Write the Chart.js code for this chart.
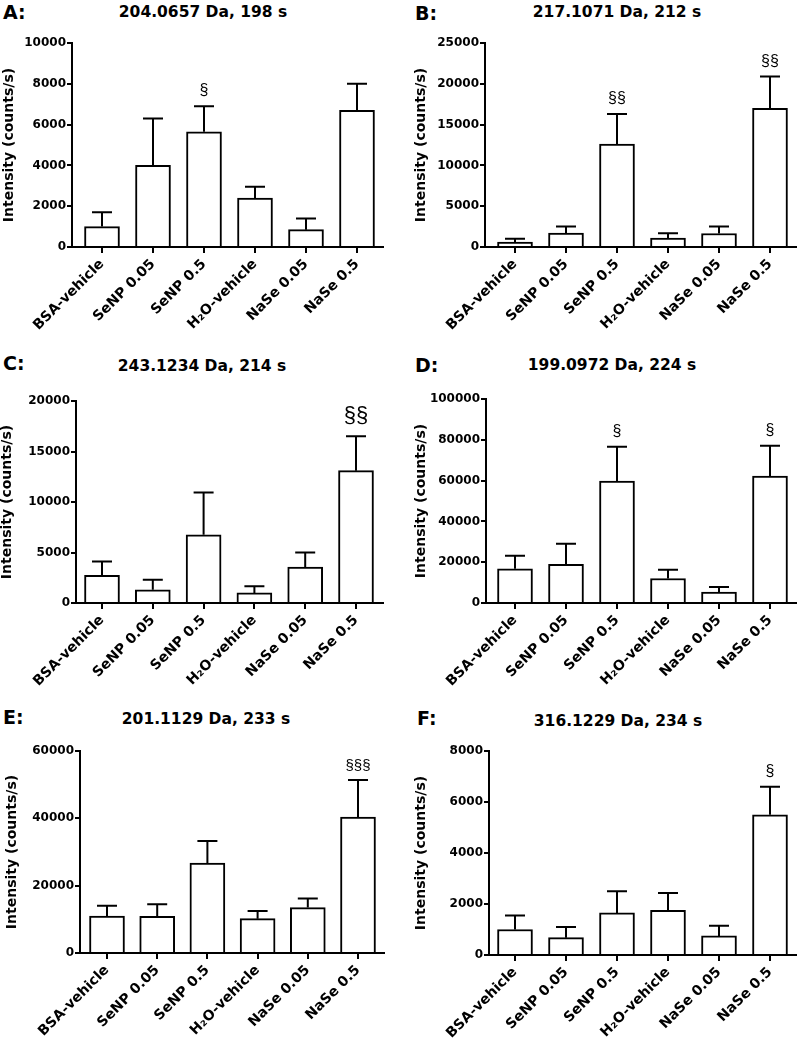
<!DOCTYPE html>
<html>
<head>
<meta charset="utf-8">
<script src="https://cdn.jsdelivr.net/npm/chart.js@4.4.1/dist/chart.umd.min.js"></script>
<style>
  html, body { margin: 0; padding: 0; background: #fff; overflow: hidden; }
  body { width: 797px; height: 1038px; position: relative; }
  canvas { position: absolute; }
  .letter { position: absolute; font: bold 19px "DejaVu Sans"; line-height: 1; transform: translateY(-50%); color: #000; }
  .title { position: absolute; font: bold 15.5px "DejaVu Sans"; line-height: 1; white-space: nowrap; transform: translate(-50%, -50%); color: #000; }
</style>
</head>
<body>
<script>
// --- DATA ---
const categories = ["BSA-vehicle", "SeNP 0.05", "SeNP 0.5", "H\u2082O-vehicle", "NaSe 0.05", "NaSe 0.5"];

const meansA = [1000, 4000, 5650, 2400, 850, 6700];
const semA = [700, 2300, 1250, 550, 550, 1300];
const marksA = ["", "", "§", "", "", ""];
const yTicksA = [0, 2000, 4000, 6000, 8000, 10000];

const meansB = [600, 1700, 12600, 1100, 1650, 17000];
const semB = [400, 800, 3700, 600, 850, 3900];
const marksB = ["", "", "§§", "", "", "§§"];
const yTicksB = [0, 5000, 10000, 15000, 20000, 25000];

const meansC = [2750, 1300, 6750, 1000, 3550, 13100];
const semC = [1350, 1000, 4200, 650, 1450, 3400];
const marksC = ["", "", "", "", "", "§§"];
const yTicksC = [0, 5000, 10000, 15000, 20000];

const meansD = [16800, 19000, 59800, 12000, 5400, 62200];
const semD = [6400, 10000, 16800, 4300, 2400, 14900];
const marksD = ["", "", "§", "", "", "§"];
const yTicksD = [0, 20000, 40000, 60000, 80000, 100000];

const meansE = [11000, 10900, 26700, 10200, 13500, 40400];
const semE = [3000, 3600, 6600, 2250, 2700, 11000];
const marksE = ["", "", "", "", "", "§§§"];
const yTicksE = [0, 20000, 40000, 60000];

const meansF = [1000, 680, 1650, 1750, 750, 5500];
const semF = [550, 420, 850, 680, 400, 1100];
const marksF = ["", "", "", "", "", "§"];
const yTicksF = [0, 2000, 4000, 6000, 8000];

const yAxisTitle = "Intensity (counts/s)";

// --- PANEL LAYOUT (pixel positions measured on the reference) ---
const panels = [
  { letter: "A:", title: "204.0657 Da, 198 s", means: meansA, sem: semA, marks: marksA, yTicks: yTicksA,
    left: 0, width: 400, axisX: 72, top: 43, zero: 247, right: 383, first: 102, last: 357,
    yTitleX: 9, titleX: 203, titleY: 13, letterX: 3, letterY: 12, markSize: 16 },
  { letter: "B:", title: "217.1071 Da, 212 s", means: meansB, sem: semB, marks: marksB, yTicks: yTicksB,
    left: 400, width: 420, axisX: 485, top: 43, zero: 247, right: 797, first: 515, last: 770,
    yTitleX: 421, titleX: 617, titleY: 13, letterX: 415, letterY: 13, markSize: 16 },
  { letter: "C:", title: "243.1234 Da, 214 s", means: meansC, sem: semC, marks: marksC, yTicks: yTicksC,
    left: 0, width: 400, axisX: 76, top: 401, zero: 603, right: 383, first: 102, last: 356,
    yTitleX: 7, titleX: 202, titleY: 367, letterX: 3, letterY: 363, markSize: 22 },
  { letter: "D:", title: "199.0972 Da, 224 s", means: meansD, sem: semD, marks: marksD, yTicks: yTicksD,
    left: 400, width: 420, axisX: 486, top: 399, zero: 603, right: 797, first: 515, last: 770,
    yTitleX: 421, titleX: 612, titleY: 366, letterX: 415, letterY: 365, markSize: 16 },
  { letter: "E:", title: "201.1129 Da, 233 s", means: meansE, sem: semE, marks: marksE, yTicks: yTicksE,
    left: 0, width: 400, axisX: 80, top: 751, zero: 953, right: 384, first: 107, last: 358,
    yTitleX: 12, titleX: 206, titleY: 720, letterX: 3, letterY: 717, markSize: 15 },
  { letter: "F:", title: "316.1229 Da, 234 s", means: meansF, sem: semF, marks: marksF, yTicks: yTicksF,
    left: 400, width: 420, axisX: 489, top: 751, zero: 955, right: 797, first: 515, last: 770,
    yTitleX: 421, titleX: 618, titleY: 722, letterX: 417, letterY: 718, markSize: 16 },
];

// Error bars (upward only) and significance marks, placed through the y scale
const errorBarPlugin = {
  id: "errorBars",
  afterDatasetsDraw(chart, args, opts) {
    const { ctx } = chart;
    const yScale = chart.scales.y;
    const meta = chart.getDatasetMeta(0);
    const points = chart.data.datasets[0].data;
    ctx.save();
    ctx.strokeStyle = "#000";
    ctx.fillStyle = "#000";
    ctx.lineWidth = 2;
    ctx.font = `${opts.markSize}px "Liberation Sans"`;
    ctx.textAlign = "center";
    ctx.textBaseline = "middle";
    meta.data.forEach((bar, i) => {
      const topY = yScale.getPixelForValue(points[i].y + opts.sem[i]);
      ctx.beginPath();
      ctx.moveTo(bar.x, bar.y);
      ctx.lineTo(bar.x, topY);
      ctx.moveTo(bar.x - 10, topY);
      ctx.lineTo(bar.x + 10, topY);
      ctx.stroke();
      if (opts.marks[i]) {
        ctx.fillText(opts.marks[i], bar.x, topY - opts.markSize * 0.95);
      }
    });
    ctx.restore();
  },
};

const axisFont = (size) => ({ family: "DejaVu Sans", weight: "bold", size: size });

function buildPanel(p) {
  const padTop = 12;
  const canvasTop = p.top - padTop;
  const height = p.zero - canvasTop + 90;
  const yTitleHalf = 7; // half of the title line height (14px * 1)
  const padLeft = Math.max(p.yTitleX - p.left - yTitleHalf, 0);
  const padRight = p.left + p.width - p.right;
  const yWidth = p.axisX - p.left - padLeft;
  const xHeight = height - (p.zero - canvasTop);
  const spacing = (p.last - p.first) / (categories.length - 1);
  const xMin = -(p.first - p.axisX) / spacing;
  const xMax = categories.length - 1 + (p.right - p.last) / spacing;

  const canvas = document.createElement("canvas");
  canvas.width = p.width;
  canvas.height = height;
  canvas.style.left = p.left + "px";
  canvas.style.top = canvasTop + "px";
  document.body.appendChild(canvas);

  const letter = document.createElement("div");
  letter.className = "letter";
  letter.textContent = p.letter;
  letter.style.left = p.letterX + "px";
  letter.style.top = p.letterY + "px";
  document.body.appendChild(letter);

  const title = document.createElement("div");
  title.className = "title";
  title.textContent = p.title;
  title.style.left = p.titleX + "px";
  title.style.top = p.titleY + "px";
  document.body.appendChild(title);

  new Chart(canvas, {
    type: "bar",
    data: {
      datasets: [{
        data: p.means.map((v, i) => ({ x: i, y: v })),
        backgroundColor: "#fff",
        borderColor: "#000",
        borderWidth: 2,
        borderSkipped: "start",
        barThickness: 35,
      }],
    },
    options: {
      responsive: false,
      devicePixelRatio: 1,
      animation: false,
      layout: { padding: { top: padTop, left: padLeft, right: padRight, bottom: 0 } },
      plugins: {
        legend: { display: false },
        tooltip: { enabled: false },
        errorBars: { sem: p.sem, marks: p.marks, markSize: p.markSize },
      },
      scales: {
        x: {
          type: "linear",
          min: xMin,
          max: xMax,
          offset: false,
          afterBuildTicks: (s) => { s.ticks = categories.map((_, i) => ({ value: i })); },
          afterFit: (s) => { s.height = xHeight; },
          grid: { display: true, offset: false, drawOnChartArea: false, drawTicks: true, tickLength: 6, color: "#000", lineWidth: 2 },
          border: { display: true, color: "#000", width: 2 },
          ticks: {
            autoSkip: false, minRotation: 45, maxRotation: 45, padding: 3, color: "#000",
            font: axisFont(14),
            callback: (v) => categories[v],
          },
        },
        y: {
          min: 0,
          max: p.yTicks[p.yTicks.length - 1],
          afterBuildTicks: (s) => { s.ticks = p.yTicks.map((v) => ({ value: v })); },
          afterFit: (s) => { s.width = yWidth; },
          grid: { display: true, drawOnChartArea: false, drawTicks: true, tickLength: 5, color: "#000", lineWidth: 2 },
          border: { display: true, color: "#000", width: 2 },
          ticks: { padding: 1, color: "#000", font: axisFont(12), callback: (v) => String(v) },
          title: {
            display: true, text: yAxisTitle, color: "#000",
            font: { family: "DejaVu Sans", weight: "bold", size: 14, lineHeight: 1 },
            padding: { top: 0, bottom: 0 },
          },
        },
      },
    },
    plugins: [errorBarPlugin],
  });
}

panels.forEach(buildPanel);
</script>
</body>
</html>
